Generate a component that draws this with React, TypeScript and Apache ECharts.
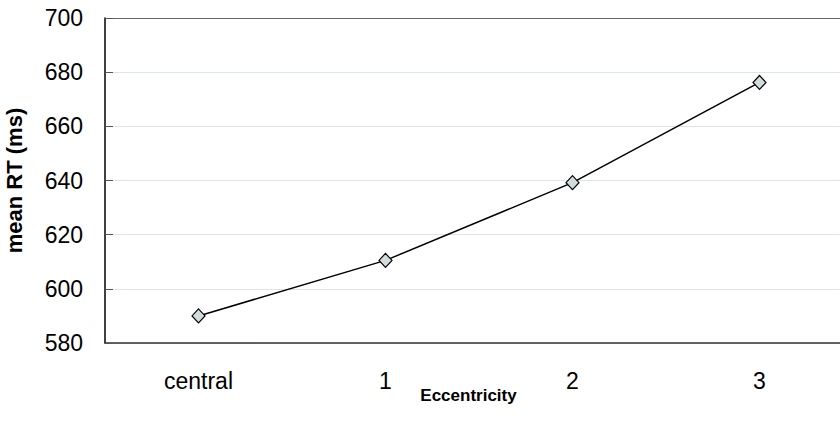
import React, { useEffect, useRef } from "react";
import * as echarts from "echarts";

const categories = ["central", "1", "2", "3"];
const meanRT = [590, 610.5, 639.2, 676.2];
const yTicks = { min: 580, max: 700, interval: 20 };

export default function App() {
  const ref = useRef<HTMLDivElement>(null);
  useEffect(() => {
    const chart = echarts.init(ref.current!, null, { renderer: "svg" });
    chart.setOption({
      animation: false,
      backgroundColor: "#ffffff",
      textStyle: { fontFamily: "Liberation Sans, Arial, sans-serif" },
      grid: { left: 105, top: 18, width: 748, height: 325, containLabel: false, outerBoundsMode: "none" },
      xAxis: {
        type: "category",
        data: categories,
        boundaryGap: true,
        name: "Eccentricity",
        nameLocation: "middle",
        nameGap: 44,
        nameMoveOverlap: false,
        nameTextStyle: { fontSize: 17, fontWeight: "bold", color: "#000", padding: [0, 21, 0, 0] },
        axisLine: { lineStyle: { color: "#333", width: 1.5 } },
        axisTick: { show: false },
        axisLabel: { fontSize: 23, color: "#000", margin: 26 },
        splitLine: { show: false },
      },
      yAxis: {
        type: "value",
        min: yTicks.min,
        max: yTicks.max,
        interval: yTicks.interval,
        name: "mean RT (ms)",
        nameLocation: "middle",
        nameGap: 80,
        nameMoveOverlap: false,
        nameTextStyle: { fontSize: 22, fontWeight: "bold", color: "#000" },
        axisLine: { show: true, lineStyle: { color: "#000", width: 1.5 } },
        axisTick: { show: true, inside: true, length: 8, lineStyle: { color: "#555" } },
        axisLabel: { fontSize: 23, color: "#000", margin: 22 },
        splitLine: {
          show: true,
          lineStyle: {
            color: ["#dde6e6", "#dde6e6", "#dde6e6", "#dde6e6", "#dde6e6", "#dde6e6", "#666666"],
            width: 1.2,
          },
        },
      },
      series: [
        {
          type: "line",
          data: meanRT,
          symbol: "diamond",
          symbolSize: [13, 14],
          lineStyle: { color: "#000", width: 1.5 },
          itemStyle: { color: "#d3dcdc", borderColor: "#000", borderWidth: 1.2 },
        },
      ],
    });
    return () => chart.dispose();
  }, []);
  return (
    <div style={{ width: 840, height: 433, position: "absolute", left: 0, top: 0, overflow: "hidden" }}>
      <div ref={ref} style={{ width: 870, height: 433 }} />
    </div>
  );
}
